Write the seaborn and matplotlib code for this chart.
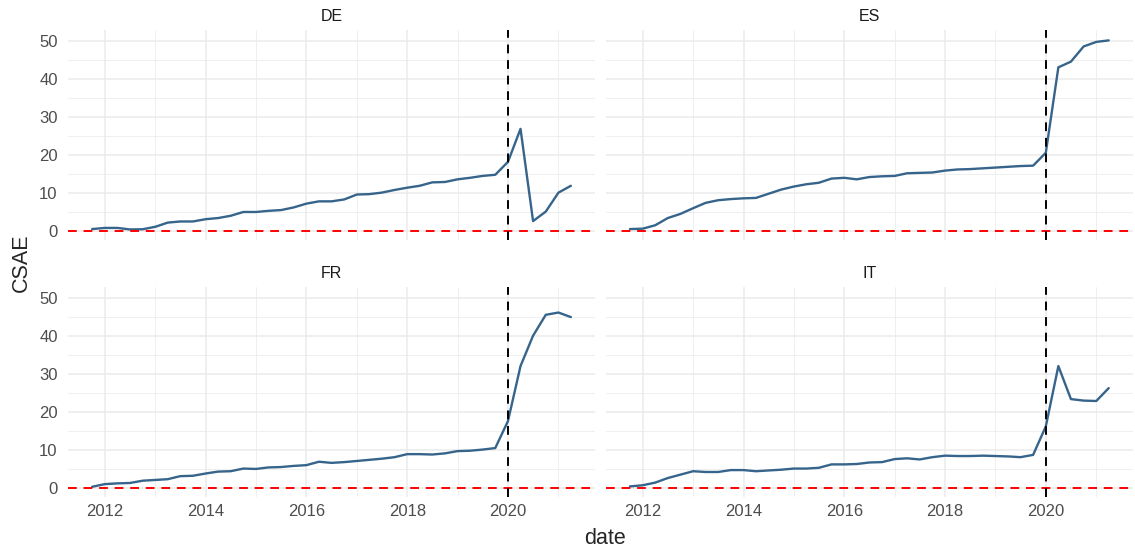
import pandas as pd
import seaborn as sns
import matplotlib.pyplot as plt
import matplotlib.dates as mdates
from matplotlib.ticker import MultipleLocator

# quarterly CSAE by country, 2011Q4 .. 2021Q2
dates = pd.date_range('2011-10-01', periods=39, freq='QS')
countries = ['DE', 'ES', 'FR', 'IT']

de = [0.4, 0.7, 0.7, 0.3, 0.35, 1.0, 2.1, 2.4, 2.4, 3.0, 3.3, 3.9, 4.9, 4.9, 5.2, 5.4, 6.1, 7.1, 7.7, 7.7,
      8.2, 9.5, 9.6, 10.0, 10.7, 11.3, 11.8, 12.7, 12.8, 13.5, 13.9, 14.4, 14.7, 18.1, 26.8, 2.5, 5.0, 10.0, 11.8]
es = [0.4, 0.5, 1.4, 3.3, 4.4, 5.9, 7.3, 8.0, 8.3, 8.5, 8.6, 9.7, 10.8, 11.6, 12.2, 12.6, 13.7, 13.9, 13.5, 14.1,
      14.3, 14.4, 15.1, 15.2, 15.3, 15.8, 16.1, 16.2, 16.4, 16.6, 16.8, 17.0, 17.1, 20.5, 43.0, 44.5, 48.5, 49.7, 50.1]
fr = [0.2, 0.9, 1.1, 1.2, 1.8, 2.0, 2.2, 3.0, 3.1, 3.7, 4.2, 4.3, 5.0, 4.9, 5.3, 5.4, 5.7, 5.9, 6.8, 6.5,
      6.7, 7.0, 7.3, 7.6, 8.0, 8.8, 8.8, 8.7, 9.0, 9.6, 9.7, 10.0, 10.4, 17.5, 32.0, 40.0, 45.5, 46.1, 44.9]
it = [0.3, 0.6, 1.3, 2.5, 3.4, 4.3, 4.1, 4.1, 4.6, 4.6, 4.3, 4.5, 4.7, 5.0, 5.0, 5.2, 6.1, 6.1, 6.2, 6.6,
      6.7, 7.5, 7.7, 7.4, 8.0, 8.4, 8.3, 8.3, 8.4, 8.3, 8.2, 8.0, 8.6, 16.1, 32.0, 23.3, 22.9, 22.8, 26.2]

break_date = pd.Timestamp('2020-01-01')

df = pd.concat([pd.DataFrame({'date': dates, 'CSAE': v, 'country': c})
                for c, v in zip(countries, [de, es, fr, it])], ignore_index=True)

sns.set_theme(style='white')
plt.rcParams['font.family'] = ['Liberation Sans', 'DejaVu Sans']

g = sns.relplot(data=df, x='date', y='CSAE', col='country', col_wrap=2, kind='line',
                color='#36648B', linewidth=1.7, height=2.7, aspect=2.1,
                facet_kws={'sharex': True, 'sharey': True})
g.figure.set_size_inches(11.35, 5.48)

g.set_titles('{col_name}', size=11.5, color='#1A1A1A', pad=6.5)
g.set_axis_labels('', '')

for ax in g.axes.flat:
    ax.axhline(0, color='red', linestyle=(0, (4.5, 3.5)), linewidth=1.4, zorder=3)
    ax.axvline(break_date, color='black', linestyle=(0, (4.5, 3.5)), linewidth=1.4, zorder=3)
    ax.set_xlim(pd.Timestamp('2011-04-10'), pd.Timestamp('2021-09-22'))
    ax.set_ylim(-2.5, 52.8)
    ax.xaxis.set_major_locator(mdates.YearLocator(2))
    ax.xaxis.set_minor_locator(mdates.YearLocator(1))
    ax.xaxis.set_major_formatter(mdates.DateFormatter('%Y'))
    ax.yaxis.set_major_locator(MultipleLocator(10))
    ax.yaxis.set_minor_locator(MultipleLocator(5))
    ax.grid(which='major', color='#EBEBEB', linewidth=1.1)
    ax.grid(which='minor', color='#EBEBEB', linewidth=0.55)
    ax.set_axisbelow(True)
    ax.tick_params(axis='both', which='both', length=0, labelsize=12, labelcolor='#4D4D4D')
    ax.tick_params(axis='x', pad=5)
    ax.tick_params(axis='y', pad=7.5)
    for s in ax.spines.values():
        s.set_visible(False)

g.figure.subplots_adjust(left=0.06, right=0.998, top=0.945, bottom=0.093, wspace=0.021, hspace=0.224)
g.figure.text(0.533, 0.008, 'date', ha='center', va='baseline', fontsize=15.5)
g.figure.text(0.019, 0.52, 'CSAE', ha='center', va='center', rotation=90, fontsize=15.5)

g.figure.savefig('out.png', dpi=100)
